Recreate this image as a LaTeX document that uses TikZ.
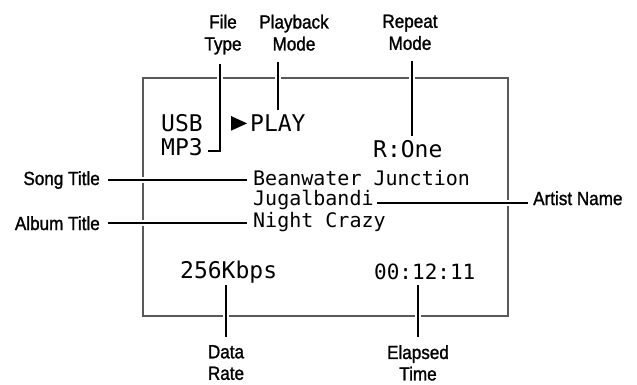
\documentclass[tikz,border=0pt]{standalone}
\usepackage{fontspec}
\setmainfont{Liberation Sans}[FakeStretch=0.9, FakeBold=1.3]
\newfontfamily\lcdfont{DejaVu Sans Mono}
\begin{document}
\begin{tikzpicture}[x=1pt,y=-1pt,
  lbl/.style={inner sep=0pt, font=\fontsize{19}{22}\selectfont, align=center},
  lbllow/.style={inner sep=0pt, font=\fontsize{19}{21.5}\selectfont, align=center},
  lcdbig/.style={inner sep=0pt, font=\lcdfont\fontsize{23}{26}\selectfont},
  lcdtime/.style={inner sep=0pt, font=\lcdfont\fontsize{21}{26}\selectfont},
  lcdsmall/.style={inner sep=0pt, font=\lcdfont\fontsize{20}{24}\selectfont},
  conn/.style={line width=1.5pt, draw=black, preaction={draw=white, line width=6pt}},
  frame/.style={draw=black!65, line width=1.2pt}]
\useasboundingbox (0,0) rectangle (637,384);
\draw[frame] (143,78) rectangle (508,316);

% display texts
\node[lcdbig, anchor=base west] (usb) at (161,131) {USB};
\node[lcdbig, anchor=base west] (mp3) at (161,155) {MP3};
\node[lcdbig, anchor=base west] (play) at (250,131) {PLAY};
\node[lcdbig, anchor=base west] (rep) at (373,157) {R:One};
\node[lcdsmall, anchor=base west] (song) at (253,185) {Beanwater Junction};
\node[lcdsmall, anchor=base west] (artist) at (253,205) {Jugalbandi};
\node[lcdsmall, anchor=base west] (album) at (253,227) {Night Crazy};
\node[lcdbig, anchor=base west] (rate) at (180,278) {256Kbps};
\node[lcdtime, anchor=base west] (time) at (374,279) {00:12:11};
\fill (231,116) -- (247,123.4) -- (231,130.7) -- cycle;

% labels
\node[lbl, anchor=north] (ftype) at (223,14.5) {File\\Type};
\node[lbl, anchor=north] (pmode) at (294,14.5) {Playback\\Mode};
\node[lbl, anchor=north] (rmode) at (410,14.5) {Repeat\\Mode};
\node[lbl, anchor=base east] (songlbl) at (100,185) {Song Title};
\node[lbl, anchor=base east] (albumlbl) at (100,230) {Album Title};
\node[lbl, anchor=base west] (artistlbl) at (533,205) {Artist Name};
\node[lbllow, anchor=north] (drate) at (226,345) {Data\\Rate};
\node[lbllow, anchor=north] (etime) at (418,345) {Elapsed\\Time};

% connectors
\draw[conn] ([shift={(-3pt,-9pt)}]ftype.south) |- ([shift={(5pt,4pt)}]mp3.base east);
\draw[conn] ([yshift=4pt]play.north) -- ([yshift=-11pt]play.north |- pmode.south);
\draw[conn] ([shift={(2pt,-11pt)}]rmode.south) -- ([shift={(2pt,4pt)}]rmode.south |- rep.north);
\draw[conn] ([shift={(8pt,5pt)}]songlbl.base east) -- ([shift={(-6pt,5pt)}]song.base west);
\draw[conn] ([shift={(8pt,7pt)}]albumlbl.base east) -- ([shift={(-6pt,4pt)}]album.base west);
\draw[conn] ([shift={(3pt,2pt)}]artist.base east) -- ([shift={(-5pt,2pt)}]artistlbl.base west);
\draw[conn] ([yshift=-7pt]drate.north |- rate.base) -- ([yshift=8pt]drate.north);
\draw[conn] ([yshift=-6pt]etime.north |- time.base) -- ([yshift=8pt]etime.north);
\end{tikzpicture}
\end{document}
